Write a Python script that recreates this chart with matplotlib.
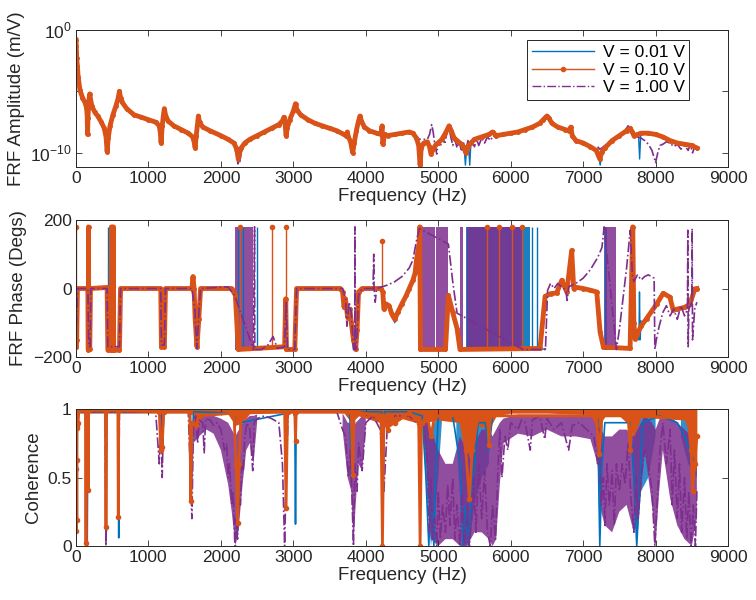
import numpy as np
import matplotlib
matplotlib.use('Agg')
import matplotlib.pyplot as plt
from matplotlib.lines import Line2D

plt.rcParams['font.family'] = ['Liberation Sans', 'DejaVu Sans']
plt.rcParams['mathtext.fontset'] = 'custom'
plt.rcParams['mathtext.rm'] = 'Liberation Sans'

c_blue = '#0072BD'
c_orange = '#D95319'
c_purple = '#7E2F8E'
c_axis = '#262626'
nan = np.nan

labels = ['V = 0.01 V', 'V = 0.10 V', 'V = 1.00 V']

# ---- FRF amplitude, log10(m/V) ----
amp_f_o = [0, 3, 6, 10, 18, 30, 55, 90, 124, 145, 155, 160, 165, 175, 185, 190, 200, 220, 260,
           300, 350, 390, 415, 430, 445, 470, 510, 550, 580, 600, 615, 640, 700, 800, 900, 1000,
           1100, 1150, 1165, 1175, 1190, 1210, 1220, 1235, 1270, 1350, 1450, 1550, 1610, 1630,
           1645, 1660, 1680, 1690, 1705, 1750, 1850, 2000, 2100, 2180, 2220, 2240, 2255, 2280,
           2330, 2400, 2500, 2600, 2700, 2800, 2850, 2870, 2885, 2900, 2915, 2950, 3000, 3030,
           3050, 3100, 3200, 3300, 3400, 3500, 3600, 3700, 3730, 3745, 3760, 3790, 3820, 3840,
           3870, 3900, 3920, 3940, 3980, 4050, 4150, 4210, 4225, 4235, 4260, 4300, 4400, 4500,
           4600, 4650, 4700, 4730, 4750, 4765, 4800, 4850, 4880, 4900, 4930, 4970, 5000, 5050,
           5100, 5150, 5180, 5220, 5300, 5350, 5380, 5410, 5450, 5500, 5600, 5700, 5750, 5800,
           5900, 6000, 6100, 6200, 6300, 6400, 6450, 6500, 6530, 6570, 6650, 6750, 6800, 6830,
           6850, 6900, 7000, 7100, 7180, 7230, 7260, 7300, 7400, 7500, 7600, 7650, 7680, 7700,
           7750, 7800, 7900, 8000, 8100, 8200, 8300, 8400, 8500, 8570]
amp_o = [-0.8, -1.3, -1.8, -2.3, -2.9, -3.8, -4.9, -5.5, -5.9, -6.3, -7.0, -8.5, -7.2, -6.0,
         -5.4, -5.2, -5.6, -6.2, -6.7, -7.0, -7.5, -8.0, -8.7, -9.9, -8.8, -7.8, -6.9, -6.2,
         -5.6, -5.0, -5.5, -5.9, -6.4, -6.9, -7.1, -7.3, -7.5, -7.8, -8.4, -9.2, -7.8, -6.8,
         -6.4, -6.9, -7.4, -7.8, -8.1, -8.4, -8.7, -9.1, -9.6, -8.6, -7.5, -7.0, -7.5, -7.9,
         -8.2, -8.6, -8.9, -9.2, -9.7, -10.5, -10.0, -9.6, -9.2, -8.9, -8.6, -8.3, -8.0, -7.7,
         -7.4, -7.1, -7.5, -8.6, -8.0, -7.3, -6.6, -6.0, -6.5, -6.9, -7.3, -7.6, -7.8, -8.0,
         -8.2, -8.5, -8.6, -8.3, -8.7, -9.1, -10.0, -9.2, -8.2, -7.4, -7.0, -7.4, -7.9, -8.2,
         -8.4, -8.5, -7.8, -9.3, -8.5, -8.6, -8.5, -8.4, -8.3, -8.4, -8.8, -9.4, -11.0, -9.6,
         -9.2, -9.1, -9.5, -10.1, -9.7, -9.3, -9.2, -8.9, -8.4, -7.8, -8.2, -8.8, -9.2, -9.5,
         -10.0, -9.5, -9.2, -8.9, -8.7, -8.5, -8.3, -8.6, -8.5, -8.4, -8.3, -8.1, -7.9, -7.6,
         -7.3, -7.0, -7.2, -7.6, -7.9, -8.1, -8.2, -7.9, -8.6, -9.0, -9.2, -9.5, -9.8, -10.5,
         -9.9, -9.6, -9.0, -8.6, -8.2, -8.0, -8.3, -8.6, -8.5, -8.4, -8.4, -8.5, -8.7, -9.0,
         -9.2, -9.3, -9.4, -9.6]

# where the 0.01 V curve leaves the 0.10 V curve (NaN splits segments)
amp_f_b = [2230, 2245, 2260, nan, 5360, 5375, 5390, 5420, 5435, 5450, nan, 7210, 7235, 7260,
           nan, 7765, 7780, 7795]
amp_b = [-9.9, -10.8, -10.0, nan, -9.7, -11.0, -9.8, -9.5, -11.0, -9.3, nan, -10.0, -11.0,
         -10.0, nan, -8.6, -10.5, -8.5]

# where the 1.00 V curve leaves the 0.10 V curve
amp_f_p = [2180, 2200, 2220, 2235, 2250, 2265, 2280, 2300, nan,
           4650, 4700, 4750, 4800, 4850, 4880, 4910, 4930, 4950, 4980, 5000, 5030, 5060, 5090,
           5120, 5150, 5170, 5200, 5230, 5260, 5290, 5320, 5350, 5380, 5410, 5440, 5470, 5500,
           5530, 5560, 5600, 5640, 5680, 5720, 5760, 5800, 5850, nan,
           7200, 7230, 7260, 7300, 7400, 7500, 7600, 7620, 7650, 7700, 7750, 7800, 7850, 7900,
           7950, 8000, 8030, 8060, 8100, 8150, 8200, 8250, 8300, 8350, 8400, 8450, 8480, 8510,
           8540, 8570]
amp_p = [-9.3, -9.8, -10.3, -10.9, -10.3, -10.7, -10.0, -9.6, nan,
         -8.4, -8.8, -8.9, -8.9, -8.9, -8.5, -7.7, -8.3, -9.2, -10.1, -9.0, -9.5, -8.7, -9.3,
         -8.3, -7.9, -8.6, -9.4, -8.9, -9.6, -9.0, -9.9, -9.2, -9.9, -9.0, -9.6, -9.1, -9.5,
         -8.9, -9.4, -8.8, -9.2, -8.7, -9.0, -8.6, -8.8, -8.5, nan,
         -9.5, -9.7, -9.6, -9.4, -9.0, -8.6, -8.0, -7.8, -8.1, -8.5, -8.7, -8.8, -9.0, -9.3,
         -9.8, -10.8, -10.0, -9.4, -9.3, -9.1, -9.2, -9.5, -9.3, -9.7, -9.4, -9.8, -9.3, -10.0,
         -9.5, -9.8]

# ---- FRF phase, degrees ----
ph_f_o = [0, 6, 10, 20, 150, 165, 170, 173, 176, 190, 200, 430, 440, 485, 490, 495, 510, 515,
          520, 600, 615, 1170, 1180, 1220, 1235, 1600, 1615, 1630, 1645, 1670, 1695, 1720, 2150,
          2200, 2240, 2880, 2895, 2905, 3020, 3045, 3650, 3680, 3700, 3720, 3750, 3780, 3800,
          3830, 3860, 3880, 3900, 3950, 4210, 4235, 4250, 4280, 4320, 4360, 4400, 4440, 4500,
          4560, 4600, 4650, 4680, 4700, 4735, 4745, 4755, 5000, 5100, 5140, 5200, 5260, 5300,
          6405, 6475, 6550, 6635, 6705, 6774, 6842, 6870, 6890, 7000, 7100, 7188, 7234, 7280,
          7648, 7685, 7700, 7717, 7740, 7800, 7875, 8013, 8105, 8197, 8243, 8300, 8400, 8473,
          8542, 8570]
ph_o = [-170, -170, -150, 0, 0, -5, -180, 180, -175, -178, 0, 3, -180, -180, 180, -180, -180,
        180, -180, -180, 0, 0, -170, -170, 0, 0, 35, 0, -90, -170, -90, 0, 0, -20, -178, -170,
        -30, -178, -178, 0, 0, -10, -55, -30, -85, -60, -100, -150, -178, -120, -10, 0, 0, -10,
        -60, -45, -50, -75, -90, -70, -44, -20, 0, 24, 45, 83, 130, 180, -178, -178, -178, -20,
        -70, -117, -178, -175, -23, -15, -13, 24, -10, 111, 0, 4, 0, -5, -10, -127, -171, -175,
        180, -100, -147, -135, -110, -88, -46, -14, -25, -63, -60, -55, -46, -1, 0]

# thin wrap spikes of the 0.10 V phase
spike_f_o = [3, 2268, 2703, 2898, 4230, 5672, 5832, 6012, 6152]
spike_lo_o = [-170, -178, -178, -30, 0, -178, -178, -178, -178]
spike_hi_o = [180, 180, 180, 180, 140, 180, 180, 180, 180]

# 0.01 V phase: wrap spikes and the parts that leave the 0.10 V trace
spike_f_b = [438, 2242, 2312, 2494, 6292, 6362]
spike_lo_b = [0, -178, -178, -178, -178, -178]
spike_hi_b = [180, 180, 180, 180, 180, 180]
ph_f_b = [4350, 4400, 4450, nan, 6280, 6350, 6420, 6480, nan, 7720, 7770, 7778, 7786, 7800]
ph_b = [-70, -100, -75, nan, -178, -178, -178, -176, nan, -140, -150, -10, -150, -95]

ph_f_p = [0, 20, 165, 175, 195, 205, 430, 440, 600, 615, 1170, 1180, 1220, 1235, 1600, 1640, 1670,
          1700, 1720, 2100, 2150, 2190, 2450, 2465, 2468, 2560, 2650, 2720, 2780, 2880, 2900,
          2920, 3020, 3045, 3680, 3720, 3740, 3770, 3800, 3830, 3848, 3850, 3853, 3870, 3900,
          3950, 4100, 4110, 4115, 4130, 4150, 4300, 4400, 4500, 4600, 4650, 4700, 4740, 5140,
          5200, 5260, 6170, 6480, 6510, 6550, 6600, 6650, 6700, 6760, 6780, 6800, 6900, 7000,
          7100, 7200, 7260, 7290, 7460, 7500, 7550, 7600, 7650, 7680, 7700, 7750, 7800, 7850,
          7900, 7980, 7990, 8010, 8050, 8100, 8150, 8200, 8250, 8300, 8350, 8400, 8440, 8445,
          8450, 8460, 8500, 8505, 8510, 8540, 8570]
ph_p = [-160, 0, 0, -170, -170, 0, 0, -170, -170, 0, 0, -165, -165, 0, 0, -60, -175, -60, 0, 5,
        -10, -20, -178, 180, -178, -178, -165, -140, -175, -170, -40, -178, -178, 0, 0, -30,
        -110, -40, -70, -178, -178, 180, -178, -178, -20, 0, 0, 100, 0, -40, 0, 10, 20, 35, 60,
        83, 140, 175, 130, 20, -72, -178, -178, -5, 15, 0, 15, 5, -5, -35, 5, 15, 30, 55, 90,
        120, 180, -178, -120, -30, 60, 170, 40, 20, 40, 25, 35, 40, 30, -178, -150, -110, -70,
        -50, -80, -60, -90, -50, -80, -60, 170, -170, -60, -40, 175, -150, -60, -40]

# dense phase-wrapping regions (start, end in Hz)
wrap_p_start = [2190, 4745, 4970, 5300, 5400, 7300]
wrap_p_end = [2450, 4950, 5140, 5345, 6170, 7460]
wrap_b_start = [5390, 7290]
wrap_b_end = [6260, 7330]

# ---- coherence ----
coh_f_o = [0, 3, 6, 9, 12, 15, 20, 30, 40, 130, 138, 145, 165, 170, 175, 405, 414, 422, 578, 584,
           590, 1150, 1170, 1190, 1210, 1570, 1585, 1600, 1650, 1700, 2180, 2210, 2230, 2250,
           2280, 2880, 2900, 2920, 3020, 3030, 3040, 3800, 3820, 3840, 4210, 4230, 4250, 4300,
           4350, 4400, 4600, 4730, 4750, 4770, 4850, 4900, 4950, 5300, 5380, 5430, 5470, 5550,
           5680, 5700, 5720, 7180, 7220, 7260, 7620, 7650, 7680, 8450, 8490, 8510, 8540, 8570]
coh_o = [0.98, 0.11, 0.56, 0.63, 0.19, 0.88, 0.86, 0.9, 0.99, 0.99, 0.02, 0.99, 0.99, 0.41, 0.99,
         0.99, 0.14, 0.99, 0.99, 0.21, 0.99, 0.98, 0.7, 0.72, 0.98, 0.98, 0.33, 0.9, 0.88, 0.95,
         0.97, 0.6, 0.17, 0.6, 0.97, 0.98, 0.28, 0.98, 0.98, 0.77, 0.98, 0.98, 0.52, 0.98, 0.95,
         0.0, 0.95, 0.85, 0.95, 0.9, 0.97, 0.9, 0.0, 0.9, 0.95, 0.8, 0.95, 0.95, 0.7, 0.34, 0.7,
         0.95, 0.95, 0.74, 0.95, 0.95, 0.67, 0.95, 0.95, 0.7, 0.95, 0.93, 0.7, 0.4, 0.6, 0.8]

# lower edge of the dense 0.10 V band near 1
band_f_o = [0, 1600, 1650, 1750, 2100, 2200, 2300, 2400, 3700, 3800, 3900, 4200, 4300, 4500,
            4700, 4800, 5000, 5300, 5450, 5550, 5700, 5800, 6000, 6300, 6500, 7100, 7200, 7300,
            7500, 7600, 7700, 7800, 8400, 8450, 8500, 8550, 8570]
band_lo_o = [0.97, 0.97, 0.85, 0.96, 0.96, 0.88, 0.9, 0.97, 0.97, 0.9, 0.95, 0.9, 0.86, 0.93,
             0.9, 0.9, 0.92, 0.9, 0.6, 0.88, 0.85, 0.95, 0.97, 0.97, 0.97, 0.96, 0.85, 0.95,
             0.95, 0.9, 0.8, 0.94, 0.92, 0.85, 0.6, 0.55, 0.6]

coh_f_b = [0, 8, 15, 145, 155, 165, 410, 418, 426, 584, 590, 596, 1180, 1195, 1210, 1580, 1600,
           1620, 2190, 2230, 2270, 3020, 3030, 3040, 3780, 3800, 3820, 4220, 4240, 4260, 4600,
           4780, 4830, 4870, 4900, 4940, 4970, 5000, 5200, 5300, 5340, 5380, 5420, 5460, 5500,
           5550, 5650, 5700, 5750, 6000, 7200, 7230, 7260, 7300, 7650, 7700, 7740, 7780, 7820,
           8050, 8300, 8400, 8500, 8570]
coh_b = [0.98, 0.55, 0.98, 0.98, 0.0, 0.98, 0.98, 0.1, 0.98, 0.98, 0.06, 0.98, 0.98, 0.7, 0.98,
         0.98, 0.5, 0.98, 0.97, 0.1, 0.9, 0.98, 0.16, 0.98, 0.98, 0.5, 0.98, 0.98, 0.4, 0.98, 0.98,
         0.95, 0.5, 0.0, 0.4, 0.0, 0.6, 0.95, 0.95, 0.6, 0.0, 0.3, 0.0, 0.4, 0.6, 0.9, 0.9, 0.7,
         0.95, 0.95, 0.95, 0.0, 0.6, 0.9, 0.9, 0.5, 0.0, 0.4, 0.9, 0.95, 0.9, 0.8, 0.65, 0.6]

# noisy 0.01 V regions: low / high edges
band_f_b = [4780, 4850, 4900, 4950, 5000, 5050, nan, 5250, 5320, 5380, 5440, 5500, 5600, 5700,
            nan, 7200, 7230, 7270, nan, 7680, 7740, 7800, 7900, 8000, nan, 8350, 8450, 8570]
band_lo_b = [0.9, 0.3, 0.0, 0.2, 0.5, 0.9, nan, 0.8, 0.2, 0.0, 0.05, 0.3, 0.5, 0.6,
             nan, 0.7, 0.0, 0.7, nan, 0.6, 0.0, 0.4, 0.5, 0.8, nan, 0.8, 0.6, 0.5]
band_hi_b = [0.97, 0.9, 0.85, 0.9, 0.95, 0.97, nan, 0.97, 0.9, 0.85, 0.85, 0.9, 0.92, 0.95,
             nan, 0.95, 0.9, 0.95, nan, 0.95, 0.9, 0.95, 0.97, 0.97, nan, 0.95, 0.92, 0.85]

coh_f_p = [0, 10, 20, 140, 150, 160, 400, 414, 425, 580, 590, 600, 1100, 1150, 1170, 1190, 1210,
           1550, 1600, 1620, 1650, 1680, 1700, 1750, 1770, 1790, 1850, 1900, 1950, 2000, 2050,
           2080, 2100, 2120, 2150, 2170, 2190, 2200, 2210, 2230, 2250, 2270, 2290, 2310, 2330,
           2360, 2400, 2440, 2460, 2500, 2600, 2700, 2800, 2850, 2880, 2900, 2930, 3000, 3600,
           3680, 3720, 3760, 3790, 3830, 3850, 3880, 3900, 3950, 4000, 4100, 4200, 4250, 4300,
           4400, 4600, 4700, 4800, 4850, 4880, 4900, 4920, 4950, 4980, 5000, 5030, 5060, 5100,
           5130, 5160, 5200, 5230, 5260, 5300, 5330, 5360, 5400, 5430, 5460, 5490, 5520, 5560,
           5600, 5640, 5680, 5720, 5750, 5790, 5820, 5850, 5880, 5920, 5960, 6000, 6100, 6150,
           6200, 6270, 6300, 6400, 6470, 6500, 6600, 6700, 6800, 6850, 6950, 7050, 7150, 7200,
           7220, 7250, 7280, 7300, 7330, 7360, 7400, 7430, 7460, 7500, 7540, 7580, 7620, 7660,
           7700, 7730, 7760, 7800, 7850, 7900, 7950, 7990, 8020, 8060, 8100, 8150, 8200, 8230,
           8260, 8300, 8330, 8360, 8400, 8430, 8460, 8490, 8520, 8550, 8570]
coh_p = [0.98, 0.5, 0.98, 0.98, 0.0, 0.98, 0.98, 0.0, 0.98, 0.98, 0.3, 0.98, 0.98, 0.6, 0.98, 0.5,
         0.98, 0.98, 0.2, 0.85, 0.95, 0.75, 0.92, 0.9, 0.68, 0.93, 0.92, 0.88, 0.9, 0.85, 0.7,
         0.75, 0.5, 0.6, 0.3, 0.4, 0.05, 0.0, 0.2, 0.05, 0.35, 0.3, 0.6, 0.55, 0.8, 0.9, 0.85,
         0.55, 0.9, 0.93, 0.95, 0.93, 0.9, 0.6, 0.0, 0.5, 0.98, 0.98, 0.98, 0.85, 0.8, 0.5, 0.7,
         0.0, 0.6, 0.4, 0.75, 0.55, 0.9, 0.95, 0.85, 0.4, 0.9, 0.95, 0.95, 0.9, 0.9, 0.6, 0.1,
         0.5, 0.05, 0.2, 0.0, 0.4, 0.05, 0.3, 0.1, 0.45, 0.15, 0.5, 0.05, 0.3, 0.0, 0.4, 0.0,
         0.3, 0.0, 0.2, 0.5, 0.1, 0.6, 0.2, 0.55, 0.1, 0.0, 0.3, 0.05, 0.5, 0.85, 0.5, 0.8, 0.7,
         0.9, 0.85, 0.92, 0.9, 0.7, 0.92, 0.95, 0.78, 0.93, 0.85, 0.9, 0.7, 0.88, 0.9, 0.85, 0.8,
         0.6, 0.85, 0.3, 0.5, 0.15, 0.6, 0.3, 0.55, 0.15, 0.6, 0.4, 0.6, 0.45, 0.75, 0.35, 0.1,
         0.5, 0.2, 0.5, 0.7, 0.6, 0.4, 0.0, 0.3, 0.7, 0.9, 0.6, 0.85, 0.3, 0.7, 0.2, 0.6, 0.1,
         0.5, 0.05, 0.4, 0.0, 0.3, 0.0, 0.4]

# noisy 1.00 V regions: low / high edges
band_f_p = [1620, 1700, 1800, 1900, 2000, 2100, 2150, 2200, 2250, 2300, 2350, 2400, 2450, 2500,
            nan, 3680, 3750, 3800, 3830, 3860, 3900, 3950, 4000,
            nan, 4800, 4850, 4900, 5000, 5100, 5200, 5300, 5400, 5500, 5600, 5700, 5750, 5800,
            5850, 5900, 6100, 6300, 6500, 6700, 6900, 7100, 7200, 7250, 7300, 7400, 7500, 7600,
            7700, 7750, 7800, 7850, 7950, 8000, 8050, 8100, 8200, 8300, 8400, 8500, 8570]
band_lo_p = [0.75, 0.8, 0.85, 0.82, 0.7, 0.45, 0.25, 0.0, 0.15, 0.45, 0.7, 0.75, 0.6, 0.9,
             nan, 0.85, 0.5, 0.4, 0.0, 0.3, 0.6, 0.55, 0.85,
             nan, 0.85, 0.5, 0.05, 0.0, 0.05, 0.05, 0.0, 0.0, 0.1, 0.1, 0.05, 0.0, 0.05,
             0.45, 0.75, 0.82, 0.8, 0.85, 0.8, 0.8, 0.78, 0.6, 0.25, 0.15, 0.1, 0.25, 0.3,
             0.1, 0.2, 0.4, 0.7, 0.3, 0.0, 0.4, 0.7, 0.35, 0.15, 0.05, 0.0, 0.2]
band_hi_p = [0.97, 0.95, 0.95, 0.95, 0.93, 0.9, 0.85, 0.8, 0.85, 0.9, 0.93, 0.95, 0.95, 0.96,
             nan, 0.97, 0.9, 0.9, 0.85, 0.9, 0.92, 0.95, 0.96,
             nan, 0.97, 0.95, 0.85, 0.7, 0.6, 0.6, 0.8, 0.7, 0.75, 0.85, 0.85, 0.8, 0.85,
             0.9, 0.93, 0.96, 0.96, 0.96, 0.96, 0.96, 0.96, 0.92, 0.85, 0.8, 0.8, 0.85, 0.85,
             0.8, 0.85, 0.9, 0.95, 0.9, 0.85, 0.92, 0.97, 0.95, 0.9, 0.85, 0.8, 0.7]


fig = plt.figure(figsize=(7.56, 6.0), dpi=100)
boxes = [[0.1005, 0.7217, 0.8625, 0.2283],
         [0.1005, 0.405, 0.8625, 0.2283],
         [0.1005, 0.09, 0.8625, 0.2283]]
axes = [fig.add_axes(b) for b in boxes]


def style(ax):
    ax.set_xlim(0, 9000)
    ax.set_xticks(range(0, 9001, 1000))
    ax.tick_params(direction='in', top=True, right=True, labelsize=12.5, colors=c_axis,
                   length=4, width=0.6, pad=3)
    for s in ax.spines.values():
        s.set_color(c_axis)
        s.set_linewidth(0.7)
    ax.set_xlabel('Frequency (Hz)', fontsize=13.5, color=c_axis, labelpad=1)


# amplitude
ax = axes[0]
ax.semilogy(amp_f_b, 10.0 ** np.array(amp_b), color=c_blue, lw=1.0)
ax.semilogy(amp_f_p, 10.0 ** np.array(amp_p), color=c_purple, lw=1.2, ls='-.')
ax.semilogy(amp_f_o, 10.0 ** np.array(amp_o), color=c_orange, lw=3.5)
ax.semilogy(amp_f_o, 10.0 ** np.array(amp_o), color=c_orange, lw=0, marker='.', ms=5)
ax.set_ylim(10 ** -11.15, 1.0)
ax.set_yticks([1e-10, 1e-5, 1.0])
ax.set_yticklabels(['$10^{-10}$', '', '$10^{0}$'])
ax.minorticks_off()
ax.set_ylabel('FRF Amplitude (m/V)', fontsize=13.5, color=c_axis)
style(ax)
handles = [Line2D([], [], color=c_blue, lw=1.0),
           Line2D([], [], color=c_orange, lw=1.0, marker='.', ms=6),
           Line2D([], [], color=c_purple, lw=1.0, ls='-.')]
leg = ax.legend(handles, labels, loc='upper right', bbox_to_anchor=(0.923, 0.947),
                bbox_transform=fig.transFigure, fontsize=12.5, handlelength=3.6,
                fancybox=False, framealpha=1, borderpad=0.25, labelspacing=0.15,
                handletextpad=0.5)
leg.get_frame().set_edgecolor(c_axis)
leg.get_frame().set_linewidth(0.7)

# phase
ax = axes[1]
ax.vlines(spike_f_b, spike_lo_b, spike_hi_b, color=c_blue, lw=1.0)
ax.plot(ph_f_b, ph_b, color=c_blue, lw=1.0)
for a, b in zip(wrap_b_start, wrap_b_end):
    ax.fill_between([a, b], -180, 180, color=c_blue, alpha=0.9, lw=0)
ax.plot(ph_f_o, ph_o, color=c_orange, lw=3.5)
ax.plot(ph_f_o, ph_o, color=c_orange, lw=0, marker='.', ms=5)
ax.vlines(spike_f_o, spike_lo_o, spike_hi_o, color=c_orange, lw=1.0)
ax.plot(spike_f_o, spike_hi_o, color=c_orange, lw=0, marker='.', ms=6)
ax.plot(ph_f_p, ph_p, color=c_purple, lw=1.2, ls='-.')
for a, b in zip(wrap_p_start, wrap_p_end):
    ax.fill_between([a, b], -180, 180, color=c_purple, alpha=0.85, lw=0)
ax.set_ylim(-200, 200)
ax.set_yticks([-200, 0, 200])
ax.set_ylabel('FRF Phase (Degs)', fontsize=13.5, color=c_axis)
style(ax)

# coherence
ax = axes[2]
ax.fill_between(band_f_b, band_lo_b, band_hi_b, color=c_blue, alpha=0.8, lw=0)
ax.plot(coh_f_b, coh_b, color=c_blue, lw=1.2)
ax.fill_between(band_f_p, band_lo_p, band_hi_p, color=c_purple, alpha=0.85, lw=0)
ax.plot(coh_f_p, coh_p, color=c_purple, lw=1.2, ls='-.')
ax.fill_between(band_f_o, band_lo_o, 1.0, color=c_orange, lw=0)
ax.plot(coh_f_o, coh_o, color=c_orange, lw=2.0)
ax.plot(coh_f_o, coh_o, color=c_orange, lw=0, marker='.', ms=6)
ax.set_ylim(0, 1)
ax.set_yticks([0, 0.5, 1])
ax.set_yticklabels(['0', '0.5', '1'])
ax.set_ylabel('Coherence', fontsize=13.5, color=c_axis)
style(ax)

fig.savefig('out.png', dpi=100)
